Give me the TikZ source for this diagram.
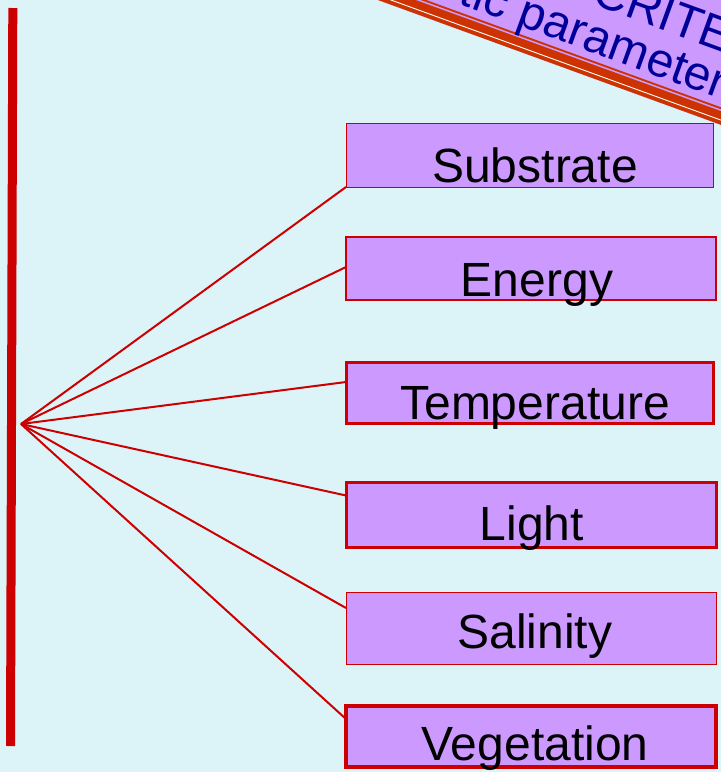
\documentclass[tikz,border=0pt]{standalone}
\usepackage{fontspec}
\setmainfont{Liberation Sans}
\definecolor{bg}{RGB}{220,244,247}
\definecolor{boxfill}{RGB}{204,153,255}
\definecolor{boxred}{RGB}{204,0,0}
\definecolor{bannerorange}{RGB}{204,51,0}
\definecolor{bannertext}{RGB}{0,0,153}
\begin{document}
\begin{tikzpicture}[x=1pt,y=1pt,
  factor/.style={draw=boxred, fill=boxfill, minimum width=367pt, minimum height=64pt,
    anchor=north west, inner sep=0pt, outer sep=0pt},
  factortext/.style={font=\fontsize{48}{56}\selectfont, anchor=base, inner sep=0pt},
  link/.style={draw=boxred, line width=2pt},
  bannertxt/.style={font=\fontsize{48}{56}\selectfont, text=bannertext, anchor=base west,
    inner sep=0pt, transform shape}]
\useasboundingbox (0,0) rectangle (721,-772);
\fill[bg] (0,0) rectangle (721,-772);
\clip (0,0) rectangle (721,-772);

% vertical bar
\coordinate (bartop) at (12.8,-8);
\coordinate (barbot) at (10.5,-746);
\draw[boxred, line width=9pt] (bartop) -- (barbot);

% boxes
\node[factor, line width=1pt, minimum width=367pt, minimum height=64pt] (sub) at (346,-123) {};
\node[factor, line width=1.3pt, minimum width=370pt, minimum height=63pt] (ene) at (346,-237) {};
\node[factor, line width=3pt, minimum width=367pt, minimum height=61pt] (tem) at (346,-362) {};
\node[factor, line width=3pt, minimum width=370pt, minimum height=65pt] (lig) at (346,-482) {};
\node[factor, line width=1pt, minimum width=370pt, minimum height=72pt] (sal) at (346,-592) {};
\node[factor, line width=3.5pt, minimum width=370pt, minimum height=61pt] (veg) at (346,-706) {};

\node[factortext] (subt) at (535,-182) {Substrate};
\node[factortext] (enet) at (537,-296) {Energy};
\node[factortext] (temt) at (535,-419) {Temperature};
\node[factortext] (ligt) at (532,-540) {Light};
\node[factortext] (salt) at (535,-648) {Salinity};
\node[factortext] (vegt) at (535,-760) {Vegetation};

% fan connectors
\coordinate (hub) at (21,-424);
\draw[link] (hub) -- (sub.south west);
\draw[link] (hub) -- ([yshift=1.5pt]ene.west);
\draw[link] (hub) -- ([yshift=10.5pt]tem.west);
\draw[link] (hub) -- ([yshift=19pt]lig.west);
\draw[link] (hub) -- ([yshift=20pt]sal.west);
\draw[link] (hub) -- ([yshift=17.5pt]veg.west);

% rotated banner (clipped)
\begin{scope}[shift={(378,0)}, rotate=-20]
  \fill[boxfill] (-300,0) rectangle (900,300);
  \fill[bannerorange] (-300,0) rectangle (900,16.5);
  \fill[boxfill] (-300,13) rectangle (900,14.5);
  \fill[white] (-300,4) rectangle (900,4.9);
  \node[bannertxt] (line2) at (-20,24) {Abiotic parameters};
  \node[bannertxt] (line1) at (201,69) {CRITERIA};
\end{scope}
\end{tikzpicture}
\end{document}
